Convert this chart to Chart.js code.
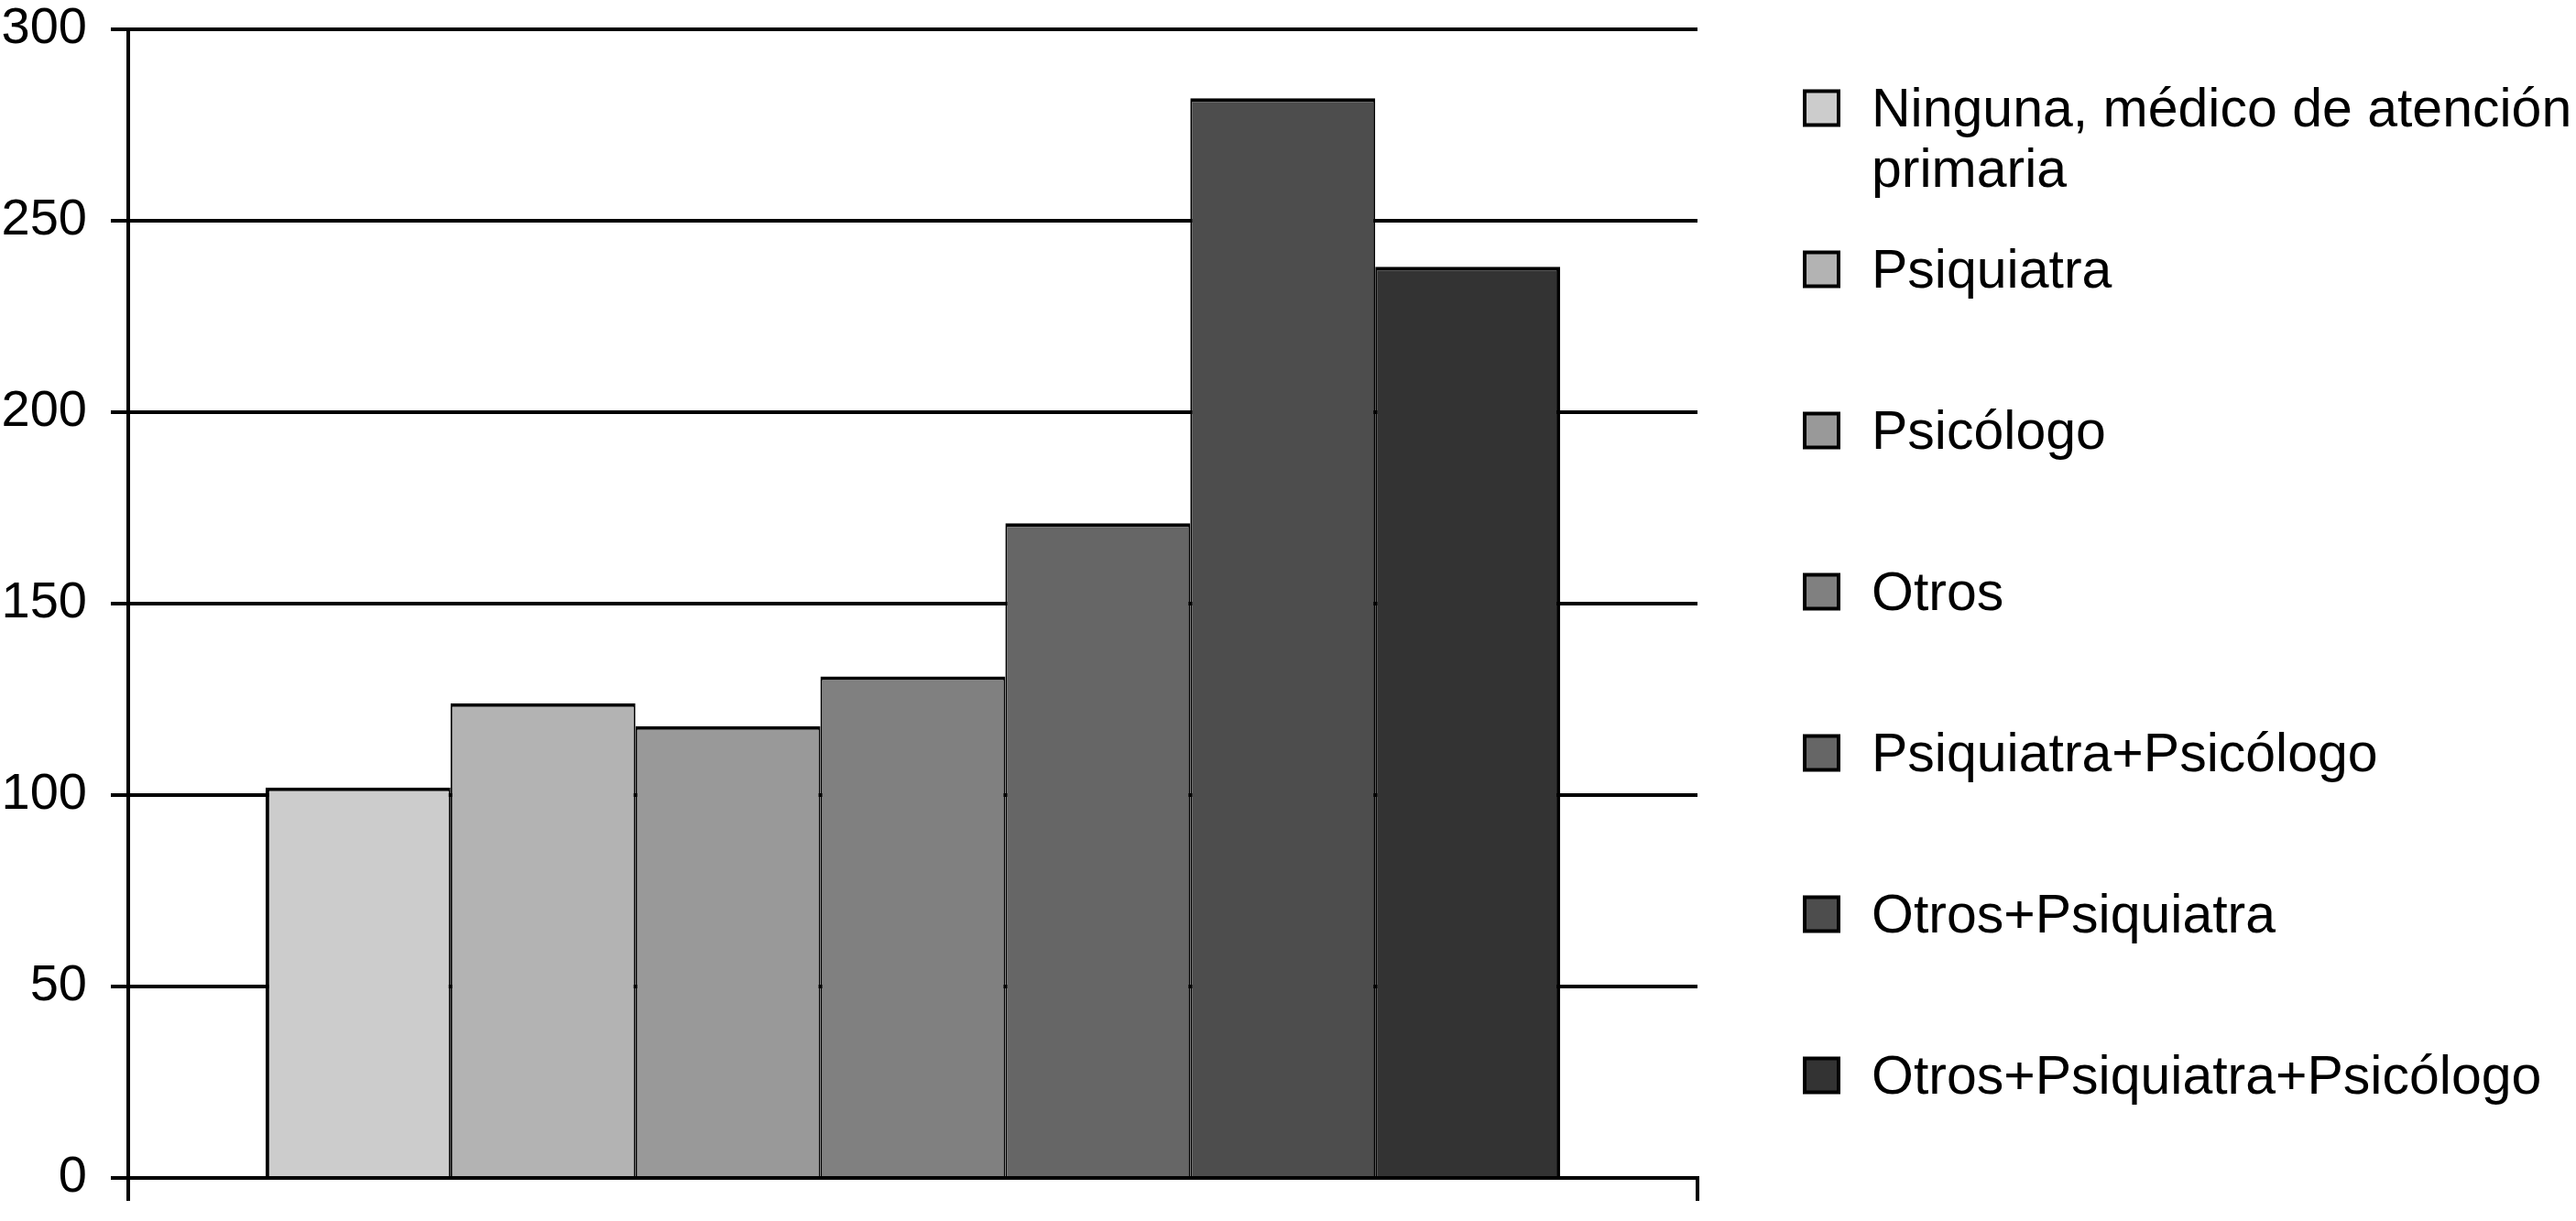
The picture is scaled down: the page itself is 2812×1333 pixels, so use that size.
<!DOCTYPE html>
<html>
<head>
<meta charset="utf-8">
<script src="https://cdn.jsdelivr.net/npm/chart.js@4.4.1/dist/chart.umd.min.js"></script>
<style>
html, body { margin: 0; padding: 0; background: #fff; }
#wrap { width: 2812px; height: 1333px; position: relative; }
</style>
</head>
<body>
<div id="wrap"><canvas id="grafico"></canvas></div>
<script>
// Dados do gráfico
const categorias = [''];
const series = [
    'Ninguna, médico de atención primaria',
    'Psiquiatra',
    'Psicólogo',
    'Otros',
    'Psiquiatra+Psicólogo',
    'Otros+Psiquiatra',
    'Otros+Psiquiatra+Psicólogo'
];
const valores = [102, 124, 118, 131, 171, 282, 238];
const cores = ['#cccccc', '#b3b3b3', '#999999', '#808080', '#666666', '#4d4d4d', '#333333'];
const yTicks = [0, 50, 100, 150, 200, 250, 300];

const fonte = '"Liberation Sans", Arial, Helvetica, sans-serif';

// quebra o texto em linhas que cabem na largura
function quebrarTexto(ctx, texto, largura) {
    const palavras = texto.split(' ');
    const linhas = [];
    let atual = '';
    palavras.forEach(p => {
        const teste = atual ? atual + ' ' + p : p;
        if (ctx.measureText(teste).width > largura && atual) {
            linhas.push(atual);
            atual = p;
        } else {
            atual = teste;
        }
    });
    if (atual) linhas.push(atual);
    return linhas;
}

// Legenda à direita, desenhada no canvas
const legendaLateral = {
    id: 'legendaLateral',
    afterDraw(chart) {
        const ctx = chart.ctx;
        const xCaixa = 1970, caixa = 37, xTexto = 2043;
        const topo = 122, passo = 176, alturaLinha = 66;
        const larguraMax = chart.width - xTexto - 2;
        ctx.save();
        ctx.font = '59px ' + fonte;
        ctx.textBaseline = 'middle';
        ctx.textAlign = 'left';
        chart.data.datasets.forEach((ds, i) => {
            const y = topo + i * passo;
            const yCaixa = y - 4 - caixa / 2;
            ctx.fillStyle = ds.backgroundColor;
            ctx.fillRect(xCaixa, yCaixa, caixa, caixa);
            ctx.lineWidth = 4;
            ctx.strokeStyle = '#000';
            ctx.strokeRect(xCaixa, yCaixa, caixa, caixa);
            ctx.fillStyle = '#000';
            quebrarTexto(ctx, ds.label, larguraMax).forEach((t, j) => {
                ctx.fillText(t, xTexto, y + j * alturaLinha);
            });
        });
        ctx.restore();
    }
};

const ultimo = series.length - 1;
const datasets = series.map((nome, i) => ({
    label: nome,
    data: [valores[i]],
    backgroundColor: cores[i],
    borderColor: '#000',
    borderWidth: { top: 4, left: i === 0 ? 4 : 2, right: i === ultimo ? 4 : 2, bottom: 0 },
    borderSkipped: false,
    categoryPercentage: 0.825,
    barPercentage: 1.0
}));

const ctx = document.getElementById('grafico').getContext('2d');
new Chart(ctx, {
    type: 'bar',
    data: {
        labels: categorias,
        datasets: datasets
    },
    options: {
        responsive: true,
        maintainAspectRatio: false,
        animation: false,
        devicePixelRatio: 1,
        layout: {
            padding: { top: 32, right: 959, left: 0, bottom: 0 }
        },
        plugins: {
            legend: { display: false },
            tooltip: { enabled: false }
        },
        scales: {
            x: {
                grid: {
                    offset: true,
                    drawOnChartArea: false,
                    color: '#000',
                    lineWidth: 4,
                    tickLength: 25
                },
                border: { color: '#000', width: 4 },
                ticks: { display: false },
                afterFit: (scale) => {
                    scale.height = 47;
                    scale.paddingLeft = 0;
                    scale.paddingRight = 0;
                }
            },
            y: {
                min: yTicks[0],
                max: yTicks[yTicks.length - 1],
                afterBuildTicks: (scale) => {
                    scale.ticks = yTicks.map(v => ({ value: v }));
                },
                grid: {
                    color: '#000',
                    lineWidth: 4,
                    tickLength: 19
                },
                border: { color: '#000', width: 4 },
                ticks: {
                    padding: 26,
                    color: '#000',
                    font: { family: fonte, size: 56 }
                },
                afterFit: (scale) => {
                    scale.width = 140;
                    scale.paddingTop = 0;
                    scale.paddingBottom = 0;
                }
            }
        }
    },
    plugins: [legendaLateral]
});
</script>
</body>
</html>
